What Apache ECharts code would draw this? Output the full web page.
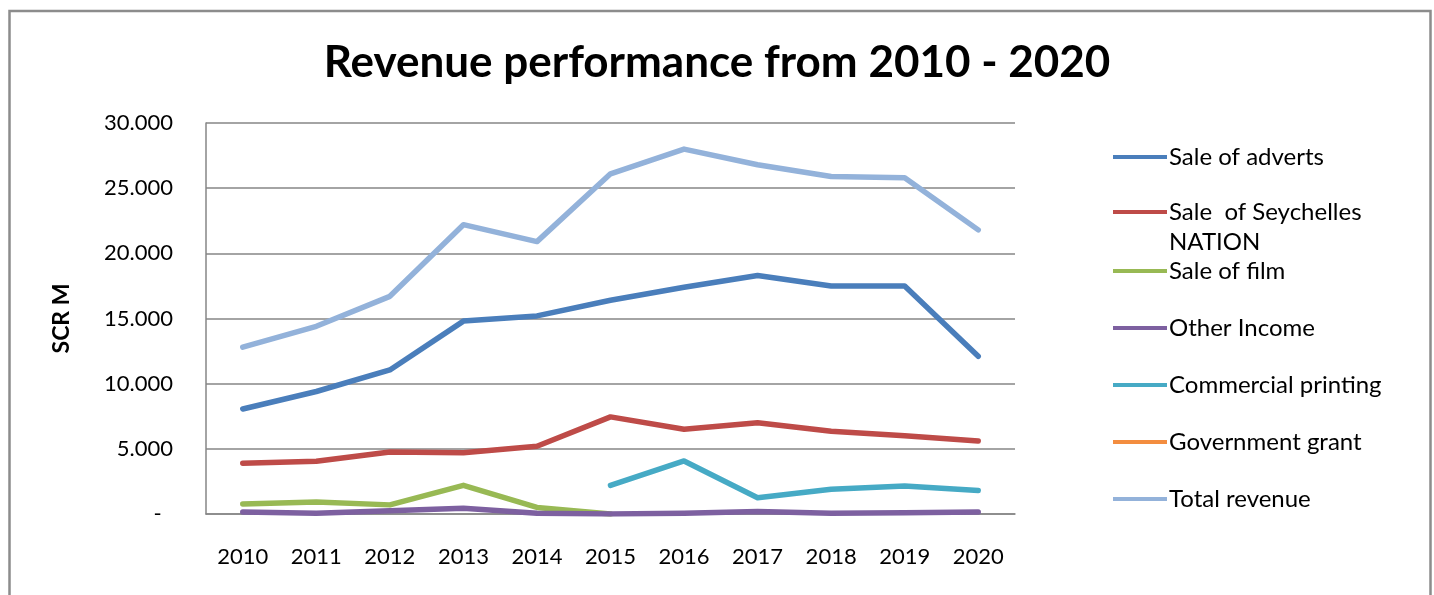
<!DOCTYPE html>
<html>
<head>
<meta charset="utf-8">
<script src="https://cdn.jsdelivr.net/npm/echarts@6/dist/echarts.min.js"></script>
<style>
  html, body { margin: 0; padding: 0; background: #fff; }
  #chart { width: 1434px; height: 595px; }
</style>
</head>
<body>
<div id="chart"></div>
<script>
// values in SCR M
var years = ['2010', '2011', '2012', '2013', '2014', '2015', '2016', '2017', '2018', '2019', '2020']
var saleOfAdverts = [8.06, 9.4, 11.05, 14.8, 15.2, 16.4, 17.4, 18.3, 17.5, 17.5, 12.1]
var saleOfNation = [3.9, 4.05, 4.75, 4.7, 5.2, 7.45, 6.5, 7.0, 6.35, 6.0, 5.6]
var saleOfFilm = [0.77, 0.92, 0.7, 2.2, 0.5, 0, null, null, null, null, null]
var otherIncome = [0.15, 0.05, 0.25, 0.45, 0.05, 0, 0.05, 0.2, 0.05, 0.1, 0.15]
var commercialPrinting = [null, null, null, null, null, 2.2, 4.07, 1.25, 1.9, 2.15, 1.8]
var governmentGrant = [null, null, null, null, null, null, null, null, null, null, null]
var totalRevenue = [12.8, 14.4, 16.7, 22.2, 20.9, 26.1, 28.0, 26.8, 25.9, 25.8, 21.8]

var seriesNames = ['Sale of adverts', 'Sale  of Seychelles NATION', 'Sale of film', 'Other Income',
  'Commercial printing', 'Government grant', 'Total revenue']
var seriesData = [saleOfAdverts, saleOfNation, saleOfFilm, otherIncome, commercialPrinting, governmentGrant, totalRevenue]
var colors = ['#4a7ebb', '#be4b48', '#98b954', '#7d60a0', '#46aac5', '#f38d3f', '#93b2da']

var fontFamily = 'Lato, "Open Sans", sans-serif'
var chart = echarts.init(document.getElementById('chart'))

// one legend per entry so the two-line label keeps its line at the first row
var legends = seriesNames.map(function (name, i) {
  var lg = {
    orient: 'vertical',
    left: 1113,
    top: 142 + i * 57,
    padding: 0,
    itemWidth: 54,
    itemHeight: 26,
    itemGap: 0,
    icon: 'path://M0,11 L54,11 L54,15 L0,15 Z',
    selectedMode: false,
    data: [name],
    textStyle: { fontFamily: fontFamily, fontSize: 24, color: '#000', lineHeight: 30, padding: [0, 0, 0, -3] },
    formatter: function (n) { return n }
  }
  if (i === 1) {
    // blank first row puts "Sale  of Seychelles" on the middle row, next to the line
    lg.formatter = function () { return ' \nSale  of Seychelles\nNATION' }
    lg.top = 142 + 57 - 32
  }
  return lg
})

var option = {
  animation: false,
  color: colors,
  title: {
    text: 'Revenue performance from 2010 - 2020',
    left: 'center',
    top: 36,
    textStyle: { fontFamily: fontFamily, fontSize: 44, fontWeight: 'bold', color: '#000' }
  },
  legend: legends,
  graphic: [
    {
      type: 'rect',
      shape: { x: 9.5, y: 11, width: 1421, height: 620 },
      style: { fill: 'none', stroke: '#8c8c8c', lineWidth: 2.5 },
      silent: true
    }
  ],
  grid: {
    left: 206,
    right: 419,
    top: 123,
    bottom: 81
  },
  xAxis: {
    type: 'category',
    data: years,
    boundaryGap: true,
    axisLine: { lineStyle: { color: '#868686', width: 1.5 } },
    axisTick: { show: false },
    axisLabel: { fontFamily: fontFamily, fontSize: 22, color: '#000', margin: 32 }
  },
  yAxis: {
    type: 'value',
    min: 0,
    max: 30,
    interval: 5,
    name: 'SCR M',
    nameLocation: 'middle',
    nameGap: 133,
    nameTextStyle: { fontFamily: fontFamily, fontSize: 23, fontWeight: 'bold', color: '#000' },
    axisLine: { show: true, lineStyle: { color: '#868686', width: 1.5 } },
    axisTick: { show: false },
    splitLine: { lineStyle: { color: '#868686', width: 1.5 } },
    axisLabel: {
      fontFamily: fontFamily,
      fontSize: 22,
      color: '#000',
      margin: 33,
      formatter: function (v) { return v === 0 ? '-  ' : v.toFixed(3) }
    }
  },
  series: seriesNames.map(function (name, i) {
    return {
      name: name,
      type: 'line',
      data: seriesData[i],
      showSymbol: false,
      symbol: 'none',
      connectNulls: false,
      lineStyle: { width: 5.5, cap: 'round', join: 'round', color: colors[i] },
      itemStyle: { color: colors[i] }
    }
  })
}
chart.setOption(option)
</script>
</body>
</html>
